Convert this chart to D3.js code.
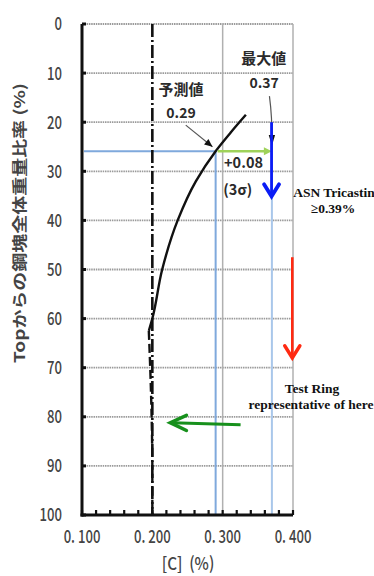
<!DOCTYPE html>
<html>
<head>
<meta charset="utf-8">
<script src="https://cdn.jsdelivr.net/npm/d3@7"></script>
<style>
  html, body { margin: 0; padding: 0; background: #fff; }
  svg { display: block; }
</style>
</head>
<body>
<svg id="chart" width="374" height="576"></svg>
<script>
// Carbon content vs. depth from ingot top
const xTicks = [0.1, 0.2, 0.3, 0.4];
const xTickLabels = ["0. 100", "0. 200", "0. 300", "0. 400"];
const xMinorTicks = [0.12, 0.14, 0.16, 0.18, 0.22, 0.24, 0.26, 0.28, 0.32, 0.34, 0.36, 0.38];
const yTicks = [0, 10, 20, 30, 40, 50, 60, 70, 80, 90, 100];

// Predicted carbon profile (solid) and its lower continuation (dashed)
const curveC = [0.195, 0.200, 0.214, 0.236, 0.262, 0.290, 0.312, 0.333];
const curveDepth = [62.5, 60, 50, 40, 32, 25.9, 22, 18.5];
const tailC = [0.195, 0.197, 0.199, 0.200, 0.200];
const tailDepth = [62.5, 70, 80, 90, 100];

const nominalC = 0.20;      // dash-dot reference line
const predictedC = 0.29;    // 予測値
const maximumC = 0.37;      // 最大値
const crossDepth = 25.9;    // depth where the profile reaches 0.29
const sigmaMargin = 0.08;   // +0.08 (3σ)
const asnLimit = "≥0.39%";

const svg = d3.select("#chart");
const x = d3.scaleLinear().domain([0.1, 0.4]).range([82, 293]);
const y = d3.scaleLinear().domain([0, 100]).range([24, 515]);

const base = svg.append("g");

// horizontal grid
base.append("g").selectAll("line").data(yTicks.slice(1, -1)).join("line")
  .attr("x1", x(0.1)).attr("x2", x(0.4))
  .attr("y1", d => y(d)).attr("y2", d => y(d))
  .attr("stroke", "#9a9a9a").attr("stroke-width", 1.8)
  .attr("stroke-dasharray", "1.5,0.8");

// frame lines (top, right, x=0.3)
base.append("line").attr("x1", x(0.1)).attr("x2", x(0.4)).attr("y1", y(0)).attr("y2", y(0))
  .attr("stroke", "#9a9a9a").attr("stroke-width", 1.8).attr("stroke-dasharray", "1.5,0.8");
[0.3, 0.4].forEach(v => {
  base.append("line").attr("x1", x(v)).attr("x2", x(v)).attr("y1", y(0)).attr("y2", y(100))
    .attr("stroke", "#b0b0b0").attr("stroke-width", 1.5);
});

// blue guide lines
const guide = "#7fa9dc";
base.append("line").attr("x1", x(0.1) + 2).attr("x2", x(predictedC))
  .attr("y1", y(crossDepth)).attr("y2", y(crossDepth))
  .attr("stroke", guide).attr("stroke-width", 2);
base.append("line").attr("x1", x(predictedC)).attr("x2", x(predictedC))
  .attr("y1", y(crossDepth)).attr("y2", y(100))
  .attr("stroke", guide).attr("stroke-width", 2);
base.append("line").attr("x1", x(maximumC)).attr("x2", x(maximumC))
  .attr("y1", y(20)).attr("y2", y(100))
  .attr("stroke", "#a9c7ea").attr("stroke-width", 2);

// nominal dash-dot line
base.append("line").attr("x1", x(nominalC)).attr("x2", x(nominalC))
  .attr("y1", y(0)).attr("y2", y(100))
  .attr("stroke", "#111").attr("stroke-width", 2.6)
  .attr("stroke-dasharray", "13,3,2,3");

// profile curve
const line = d3.line().curve(d3.curveMonotoneY);
base.append("path")
  .attr("d", line(curveC.map((c, i) => [x(c), y(curveDepth[i])])))
  .attr("fill", "none").attr("stroke", "#111").attr("stroke-width", 2.4);
base.append("path")
  .attr("d", line(tailC.map((c, i) => [x(c), y(tailDepth[i])])))
  .attr("fill", "none").attr("stroke", "#111").attr("stroke-width", 2.4)
  .attr("stroke-dasharray", "9,4");

// axes
base.append("line").attr("x1", x(0.1)).attr("x2", x(0.1)).attr("y1", y(0)).attr("y2", y(100) + 1.5)
  .attr("stroke", "#111").attr("stroke-width", 3);
base.append("line").attr("x1", x(0.1) - 1.5).attr("x2", x(0.4)).attr("y1", y(100)).attr("y2", y(100))
  .attr("stroke", "#111").attr("stroke-width", 3);

// y ticks (inside)
base.append("g").selectAll("line").data(yTicks).join("line")
  .attr("x1", x(0.1)).attr("x2", x(0.1) + 4)
  .attr("y1", d => y(d)).attr("y2", d => y(d))
  .attr("stroke", "#111").attr("stroke-width", 3);
// x ticks (inside)
base.append("g").selectAll("line").data(xTicks.concat(xMinorTicks)).join("line")
  .attr("x1", d => x(d)).attr("x2", d => x(d))
  .attr("y1", y(100)).attr("y2", y(100) - 5)
  .attr("stroke", "#111").attr("stroke-width", 2.2);

// tick labels
const tickFont = "'Noto Sans CJK JP', 'Noto Sans', sans-serif";
base.append("g").selectAll("text").data(yTicks).join("text")
  .attr("transform", d => `translate(62, ${y(d)}) scale(0.82, 1.12)`)
  .attr("text-anchor", "end").attr("dy", "0.36em")
  .attr("font-family", tickFont).attr("font-size", 16).attr("font-weight", 500)
  .attr("fill", "#444").text(d => d);
base.append("g").selectAll("text").data(xTicks).join("text")
  .attr("transform", d => `translate(${x(d)}, 537) scale(0.82, 1.12)`)
  .attr("text-anchor", "middle").attr("dy", "0.36em")
  .attr("font-family", tickFont).attr("font-size", 16).attr("font-weight", 500)
  .attr("fill", "#444").attr("xml:space", "preserve")
  .text((d, i) => xTickLabels[i]);

// axis titles
base.append("text")
  .attr("transform", "translate(188, 564) scale(0.95, 1.1)")
  .attr("text-anchor", "middle").attr("dy", "0.36em")
  .attr("font-family", tickFont).attr("font-size", 16).attr("font-weight", 500)
  .attr("fill", "#444").text("[C]\u00a0\u00a0(%)");
base.append("text")
  .attr("transform", "translate(20, 223) rotate(-90)")
  .attr("text-anchor", "middle").attr("dy", "0.36em")
  .attr("font-family", tickFont).attr("font-size", 15).attr("font-weight", 700)
  .attr("textLength", 280).attr("lengthAdjust", "spacingAndGlyphs")
  .attr("fill", "#444").text("Topからの鋼塊全体重量比率 (%)");

// in-plot Japanese annotations
const jp = (txt, cx, cy, size) => base.append("text")
  .attr("x", cx).attr("y", cy).attr("dy", "0.36em").attr("text-anchor", "middle")
  .attr("font-family", tickFont).attr("font-size", size).attr("font-weight", 700)
  .attr("fill", "#2a2a2a").text(txt);
jp("最大値", x(0.3585), y(7), 15);
jp(String(maximumC), x(0.359), y(12.1), 14);
jp("予測値", x(0.2408), y(13.4), 15);
jp(String(predictedC), x(0.2408), y(18.1), 14);
base.append("text").attr("x", x(0.302)).attr("y", y(28.3)).attr("dy", "0.36em")
  .attr("font-family", tickFont).attr("font-size", 14.5).attr("font-weight", 700)
  .attr("fill", "#2a2a2a").text("+" + sigmaMargin.toFixed(2));
base.append("text").attr("x", x(0.301)).attr("y", y(33.8)).attr("dy", "0.36em")
  .attr("font-family", tickFont).attr("font-size", 14.5).attr("font-weight", 700)
  .attr("fill", "#2a2a2a").text("(3σ)");

// pointer from "0.29" to crossing point
const ptr = (x1, y1, x2, y2) => {
  base.append("line").attr("x1", x1).attr("y1", y1).attr("x2", x2).attr("y2", y2)
    .attr("stroke", "#555").attr("stroke-width", 1.2);
  const a = Math.atan2(y2 - y1, x2 - x1), L = 8, W = 3.5;
  const p = [[x2, y2],
    [x2 - L * Math.cos(a) + W * Math.sin(a), y2 - L * Math.sin(a) - W * Math.cos(a)],
    [x2 - L * Math.cos(a) - W * Math.sin(a), y2 - L * Math.sin(a) + W * Math.cos(a)]];
  base.append("path").attr("d", "M" + p.join("L") + "Z").attr("fill", "#111");
};
ptr(x(0.2475), y(20.6), x(0.2855), y(25));
// pointer from "0.37" down to maximum
base.append("path")
  .attr("d", `M${x(0.3665)},${y(14.7)} Q${x(0.3705)},${y(19)} ${x(0.3700)},${y(23.8)}`)
  .attr("fill", "none").attr("stroke", "#555").attr("stroke-width", 1.2);
base.append("path")
  .attr("d", `M${x(0.370)},${y(24.8)} L${x(0.3655)},${y(22.6)} L${x(0.3745)},${y(22.6)} Z`)
  .attr("fill", "#111");

// +3σ green arrow
const green = "#9fd25a";
base.append("line").attr("x1", x(predictedC) + 2).attr("x2", x(predictedC + sigmaMargin) - 4)
  .attr("y1", y(crossDepth)).attr("y2", y(crossDepth))
  .attr("stroke", green).attr("stroke-width", 2.5);
base.append("path")
  .attr("d", `M${x(predictedC + sigmaMargin)},${y(crossDepth)} l-8,-4 l0,8 Z`)
  .attr("fill", green);

// overlay annotations
const ov = svg.append("g");
const chevronArrow = (c, d1, d2, color, w, hw, hl) => {
  ov.append("line").attr("x1", x(c)).attr("x2", x(c)).attr("y1", y(d1)).attr("y2", y(d2) - 2)
    .attr("stroke", color).attr("stroke-width", w);
  ov.append("path")
    .attr("d", `M${x(c) - hw},${y(d2) - hl} L${x(c)},${y(d2) - 1} L${x(c) + hw},${y(d2) - hl}`)
    .attr("fill", "none").attr("stroke", color).attr("stroke-width", w + 1)
    .attr("stroke-linecap", "round").attr("stroke-linejoin", "miter");
};
chevronArrow(0.3695, 20, 35.3, "#0a1cf5", 2.8, 7.5, 13);
chevronArrow(0.399, 47.5, 68.2, "#ff2a12", 2.6, 7.5, 13);

// green pointer toward the lower zone
const gc = "#17901c";
ov.append("line").attr("x1", x(0.3255)).attr("x2", x(0.228))
  .attr("y1", y(81.6)).attr("y2", y(81.2))
  .attr("stroke", gc).attr("stroke-width", 3);
ov.append("path")
  .attr("d", `M${x(0.2485)},${y(79.7)} L${x(0.2255)},${y(81.2)} L${x(0.2485)},${y(82.8)}`)
  .attr("fill", "none").attr("stroke", gc).attr("stroke-width", 3.5)
  .attr("stroke-linecap", "round");

const serif = "'Liberation Serif', 'DejaVu Serif', serif";
const en = (txt, cx, cy) => ov.append("text").attr("x", cx).attr("y", cy).attr("dy", "0.35em")
  .attr("text-anchor", "middle").attr("font-family", serif).attr("font-size", 13.5)
  .attr("font-weight", 700).attr("fill", "#111").text(txt);
en("ASN Tricastin", 334, 192);
en(asnLimit, 333, 208);
en("Test Ring", 312, 388);
en("representative of here", 311, 404);
</script>
</body>
</html>
